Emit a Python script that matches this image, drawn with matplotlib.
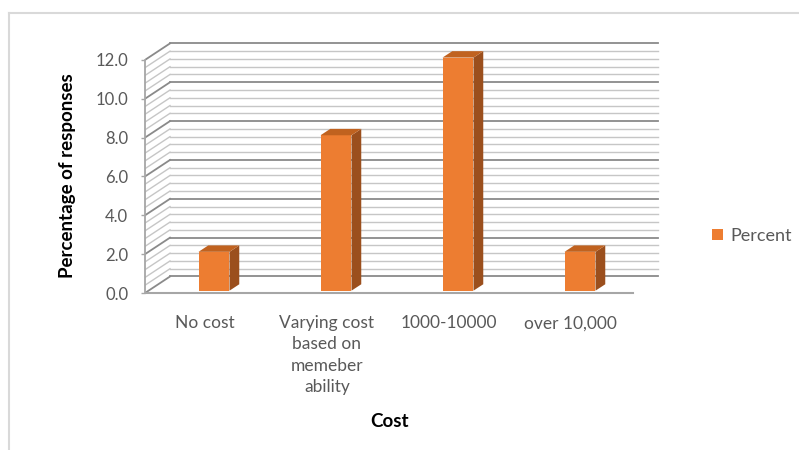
import numpy as np
import matplotlib
matplotlib.use('Agg')
import matplotlib.pyplot as plt
from matplotlib.patches import Polygon

plt.rcParams['font.family'] = ['Lato', 'DejaVu Sans']

# data
categories = ['No cost', 'Varying cost\nbased on\nmemeber\nability', '1000-10000', 'over 10,000']
percent = [2.0, 8.0, 12.0, 2.0]
y_ticks = [0, 2, 4, 6, 8, 10, 12]

# 3d look (in data units)
wall_dx, wall_dy = 0.205, 0.85      # depth of back wall
bar_dx, bar_dy = 0.08, 0.33         # depth of bars
bar_base = 0.12
bar_w = 0.254
floor_left, floor_right = -0.5656, 3.434

front = '#ED7D31'
side = '#9B4F1D'
top = '#C0621F'

fig = plt.figure(figsize=(7.99, 4.5), dpi=100)
# outer chart border
fig.add_artist(plt.Line2D([9/799, 9/799], [0, 1 - 13/450], color='#d9d9d9', lw=1.5))
fig.add_artist(plt.Line2D([9/799, 1], [1 - 13/450, 1 - 13/450], color='#d9d9d9', lw=1.5))

ax = fig.add_axes([145/799, 150/450, 520/799, 270/450])
ax.set_xlim(floor_left, floor_left + 520/122)
ax.set_ylim(-0.36, 13.54)

# gridlines on back wall + side wall
for v in np.arange(0, 12.001, 0.4):
    major = abs(v/2 - round(v/2)) < 1e-6
    c = '#8a8a8a' if major else '#c6c6c6'
    lw = 1.3 if major else 1.0
    ax.plot([floor_left + wall_dx, floor_right + wall_dx], [v + wall_dy, v + wall_dy], color=c, lw=lw, zorder=1)
    ax.plot([floor_left, floor_left + wall_dx], [v, v + wall_dy], color=c, lw=lw, zorder=1)

# floor front edge
ax.plot([floor_left, floor_right], [0, 0], color='#a6a6a6', lw=1.5, zorder=2)

# bars
x = np.arange(len(categories))
ax.bar(x, percent, width=bar_w, bottom=bar_base, color=front, zorder=3, label='Percent')
for xi, v in zip(x, percent):
    l, r = xi - bar_w/2, xi + bar_w/2
    t = v + bar_base
    ax.add_patch(Polygon([(r, bar_base), (r + bar_dx, bar_base + bar_dy), (r + bar_dx, t + bar_dy), (r, t)],
                         closed=True, facecolor=side, edgecolor='none', zorder=3))
    ax.add_patch(Polygon([(l, t), (r, t), (r + bar_dx, t + bar_dy), (l + bar_dx, t + bar_dy)],
                         closed=True, facecolor=top, edgecolor='none', zorder=3))

# axes
for s in ['top', 'right', 'bottom']:
    ax.spines[s].set_visible(False)
ax.spines['left'].set_bounds(0, 12)
ax.spines['left'].set_color('#a6a6a6')
ax.spines['left'].set_linewidth(1.3)
ax.set_yticks(y_ticks)
ax.set_yticklabels(['%.1f' % t for t in y_ticks])
ax.tick_params(axis='y', length=3, width=1, color='#a6a6a6', pad=9, labelsize=12, labelcolor='#595959')
ax.set_xticks(x - 0.075)
ax.set_xticklabels(categories, fontsize=12.5, color='#595959', linespacing=1.4, va='top')
ax.tick_params(axis='x', length=0, pad=11)

ax.set_ylabel('Percentage of responses', fontsize=13.5, fontweight='bold')
ax.yaxis.set_label_coords(-0.133, 0.46)
ax.set_xlabel('Cost', fontsize=13.5, fontweight='bold')
ax.xaxis.set_label_coords(0.471, -0.417)

fig.legend(loc='center left', bbox_to_anchor=(696/799, 1 - 236/450), frameon=False,
           handlelength=0.6, handleheight=0.6, handletextpad=0.4, fontsize=13, labelcolor='#595959')

fig.savefig('out.png', dpi=100)
